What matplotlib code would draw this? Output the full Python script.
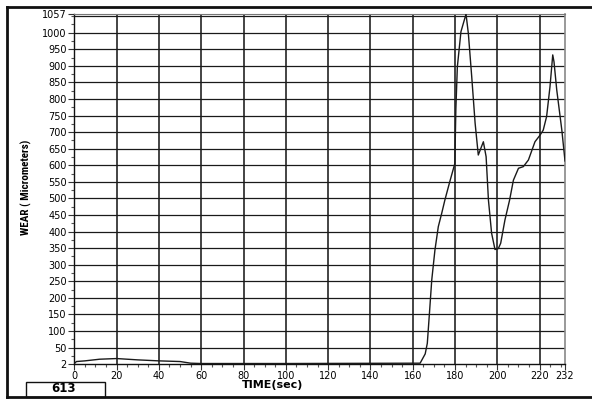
#!/usr/bin/env python3
# -*- coding: utf-8 -*-

import numpy as np
import matplotlib
matplotlib.use("Agg")
import matplotlib.pyplot as plt
from matplotlib.lines import Line2D
from matplotlib.patches import Rectangle
from matplotlib import font_manager


# tool wear log, time in seconds, wear in micrometers
TIME = [0, 1, 5, 12, 20, 30, 40, 50, 55, 60, 100, 163.5, 165.9, 166.9,
        167.9, 169, 170.5, 172.1, 173.7, 175.2, 177.5, 179.9, 180.4, 181.1,
        182.8, 185.2, 186.3, 187.9, 189.5, 191, 193.4, 194.7, 195.8, 197.3,
        198.9, 200.5, 201.6, 203.6, 205.8, 207.6, 210, 212.3, 214.7, 217.8,
        220.2, 221.7, 223.3, 224.9, 226.2, 226.8, 228.1, 230.5, 232]
WEAR = [2, 8, 10, 15, 17, 13, 10, 8, 3, 2, 2, 3, 31, 63,
        153, 254, 344, 415, 455, 495, 550, 605, 770, 897,
        1003, 1056, 998, 867, 727, 631, 671, 626, 495, 395,
        346, 349, 365, 435, 495, 555, 591, 596, 616, 671,
        691, 706, 747, 837, 933, 912, 827, 706, 613]

XTICKS = [0, 20, 40, 60, 80, 100, 120, 140, 160, 180, 200, 220, 232]
YTICKS = [2] + list(range(50, 1001, 50)) + [1057]
LAST = 613

TICKLBLSIZE = 7
AXISLBLSIZE = 8


def narrow_family():
    names = {f.name for f in font_manager.fontManager.ttflist}
    for n in ["Liberation Sans Narrow", "DejaVu Sans Condensed", "Roboto Condensed"]:
        if n in names:
            return n
    return "DejaVu Sans"


def make():
    fig = plt.figure(figsize=(5.92, 4.0), dpi=100)
    ax = fig.add_axes([0.1255, 0.0912, 0.8289, 0.8743])

    ax.plot(TIME, WEAR, color="#1a1a1a", linewidth=1.0, zorder=3)

    ax.set_xlim(0, 232)
    ax.set_ylim(2, 1057)

    ax.set_xticks(XTICKS)
    ax.set_xticks([t for t in range(5, 232, 5) if t not in XTICKS], minor=True)
    ax.set_yticks(YTICKS)
    ax.set_yticks(list(range(25, 1051, 50)) + [1050], minor=True)
    ax.set_xticklabels([str(t) for t in XTICKS])
    ax.set_yticklabels([str(t) for t in YTICKS])

    ax.tick_params(axis="both", which="major", length=4, width=0.8,
                   labelsize=TICKLBLSIZE, pad=1.5, color="#333333")
    ax.tick_params(axis="both", which="minor", length=2, width=0.8, color="#555555")

    # grid every 20 s and every 50 um
    for t in XTICKS[1:-1]:
        ax.axvline(t, color="#111111", linewidth=1.1, zorder=1)
    for w in YTICKS[1:-1] + [1050]:
        ax.axhline(w, color="#1a1a1a", linewidth=0.9, zorder=1)

    for side in ["left", "bottom"]:
        ax.spines[side].set_color("#111111")
        ax.spines[side].set_linewidth(1.0)
    ax.spines["top"].set_color("#777777")
    ax.spines["right"].set_color("#888888")
    ax.spines["right"].set_linewidth(1.2)

    fam = narrow_family()
    ax.set_ylabel("WEAR ( Micrometers)", fontsize=8, fontweight="bold",
                  family=fam, fontstretch="condensed")
    ax.yaxis.set_label_coords(-0.087, 0.505)
    fig.text(0.46, 0.038, "TIME(sec)", fontsize=AXISLBLSIZE, fontweight="bold",
             ha="center", va="center")

    # last reading box
    fig.patches.append(Rectangle((26 / 592, 3 / 400), 79 / 592, 15.5 / 400,
                                 transform=fig.transFigure, fill=False,
                                 edgecolor="#111111", linewidth=1.0))
    fig.text(63 / 592, 11 / 400, str(LAST), fontsize=8.5, fontweight="bold",
             ha="center", va="center")

    # panel frame
    frame = dict(transform=fig.transFigure, color="#111111", linewidth=2.0)
    fig.lines.append(Line2D([7 / 592, 1.0], [393 / 400, 393 / 400], **frame))
    fig.lines.append(Line2D([7 / 592, 7 / 592], [3 / 400, 393 / 400], **frame))
    fig.lines.append(Line2D([7 / 592, 1.0], [3 / 400, 3 / 400], **frame))

    plt.savefig("out.png", dpi=100)
    plt.close()


def main():
    make()


if __name__ == "__main__":
    main()
